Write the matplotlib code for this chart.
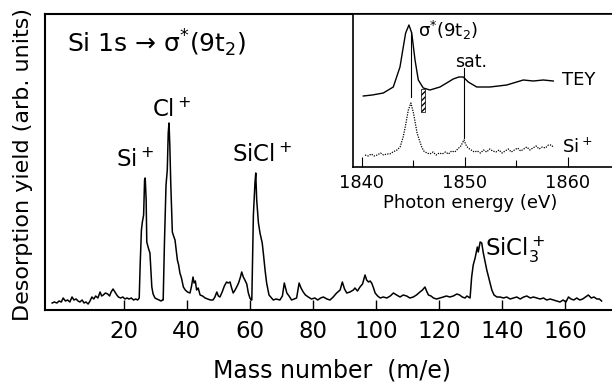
import matplotlib
matplotlib.use("Agg")
import matplotlib.pyplot as plt
from matplotlib.patches import Rectangle

plt.rcParams['font.family'] = 'DejaVu Sans'
plt.rcParams['mathtext.default'] = 'regular'

# main spectrum: mass number vs desorption yield (arb. units)
mass = [-2.7, -2.0, -1.2, -0.5, 0.2, 0.8, 1.5, 2.2, 2.9, 3.6, 4.2, 4.9, 5.5, 6.1, 6.8,
        7.4, 8.0, 8.7, 9.3, 9.9, 10.5, 11.1, 11.8, 12.5, 13.0, 13.5, 14.2, 14.9, 15.5,
        16.0, 16.6, 17.2, 17.8, 18.3, 19.0, 19.7, 20.4, 21.0, 21.7, 22.4, 23.1, 23.8, 24.4,
        24.9, 25.2, 25.6, 25.9, 26.3, 26.6, 26.8, 27.1, 27.3, 27.8, 28.3, 28.6, 28.9, 29.3,
        29.9, 30.5, 31.2, 31.8, 32.3,
        32.5, 32.9, 33.4, 33.8, 34.1, 34.35, 34.6, 34.9, 35.4, 35.8, 36.25, 37.0, 37.4,
        37.8, 38.3, 38.9, 39.5, 40.2, 41.0,
        41.5, 41.96, 42.3, 42.7, 43.1, 43.6, 44.2, 45.0, 45.8, 46.6, 47.5, 48.3, 48.9, 49.5,
        50.0, 50.5, 51.2, 51.9, 52.6, 53.1, 53.7, 54.2, 54.7, 55.3, 55.8, 56.4, 57.0, 57.4,
        57.9, 58.4, 59.0, 59.5, 60.0, 60.4,
        60.6, 60.9, 61.1, 61.6, 61.85, 62.15, 62.7, 63.2, 63.9, 64.25, 64.8, 65.3, 66.05,
        67.4, 68.3, 69.5, 70.3, 70.9, 71.7, 72.4, 73.2, 74.0, 74.8, 75.6, 76.2, 76.9, 77.6,
        78.5, 79.5, 80.6, 81.5, 82.4, 83.3, 84.4, 85.4, 86.4, 87.5, 88.6, 89.3, 90.0, 90.7,
        91.7, 92.8, 93.3, 94.1, 94.9, 95.7, 96.5, 97.0, 97.6, 98.1, 98.6, 99.2, 99.7, 100.5,
        101.3, 102.3, 103.4, 104.5, 105.5, 106.5, 107.6, 108.6, 109.7, 110.7, 111.8, 112.8,
        113.9, 114.7, 115.5, 116.0, 116.6, 117.4, 118.2, 119.2, 120.3, 121.3, 122.3, 123.4,
        124.5, 125.6, 126.5, 127.3, 128.2, 128.8, 129.3, 129.8, 130.3, 130.8, 131.4, 132.1,
        132.4, 133.0, 133.5, 134.0, 134.6, 135.1, 135.9, 136.7, 137.4, 138.3, 139.3, 140.4,
        141.4, 142.5, 143.5, 144.6, 145.7, 146.8, 147.8, 148.9, 149.9, 151.0, 152.0, 153.1,
        154.1, 155.2, 156.2, 157.3, 158.3, 159.3, 160.2, 161.0, 161.8, 162.7, 163.6, 164.6,
        165.5, 166.4, 167.3, 168.2, 169.1, 170.0, 170.8, 171.5]
yield_ = [7, 8, 7, 9, 8, 12, 9, 10, 8, 13, 10, 11, 9, 8, 10,
          7, 8, 6, 9, 13, 11, 14, 12, 18, 14, 15, 17, 16, 14,
          18, 21, 18, 15, 13, 12, 13, 11, 12, 11, 12, 10, 11, 10,
          12, 45, 80, 88, 95, 130, 132, 110, 68, 62, 57, 40, 23, 16,
          12, 11, 10, 9, 10,
          10, 67, 125, 140, 177, 187, 165, 127, 78, 74, 70, 50, 45,
          37, 32, 23, 20, 18, 17,
          24, 33, 27, 29, 20, 22, 15, 14, 12, 11, 10, 10, 13, 18,
          14, 13, 18, 24, 28, 27, 28, 22, 17, 20, 23, 27, 33, 38,
          33, 30, 26, 17, 12, 10,
          10, 60, 95, 127, 137, 110, 87, 77, 67, 57, 40, 27, 15,
          10, 11, 10, 14, 27, 17, 14, 10, 11, 12, 27, 22, 18, 15,
          13, 11, 12, 10, 12, 13, 11, 10, 13, 17, 20, 28, 21, 17,
          18, 20, 22, 19, 23, 26, 35, 30, 28, 29, 27, 22, 17, 14,
          12, 13, 12, 14, 17, 15, 13, 15, 14, 12, 13, 15,
          18, 20, 23, 19, 15, 14, 12, 11, 12, 13, 14, 13,
          14, 16, 15, 13, 12, 14, 13, 12, 33, 45, 52, 63,
          58, 68, 67, 57, 48, 40, 30, 20, 15, 13, 13, 12,
          13, 11, 12, 13, 11, 13, 14, 12, 13, 12, 11, 12,
          10, 11, 10, 9, 8, 10, 8, 13, 11, 10, 12, 10,
          11, 13, 15, 12, 13, 11, 11, 9]

mass_ticks = [20, 40, 60, 80, 100, 120, 140, 160]

# inset: photon energy scans
tey_energy = [1840.13, 1841.0, 1842.07, 1843.04, 1843.69, 1844.01, 1844.24, 1844.56, 1844.83,
              1845.15, 1845.47, 1845.95, 1846.6, 1847.57, 1848.22, 1848.86, 1849.4, 1849.83,
              1850.32, 1851.14, 1852.43, 1854.05, 1855.66, 1856.63, 1857.6, 1858.57]
tey_signal = [71, 72, 74, 80, 100, 120, 134, 142, 134,
              107, 87, 79, 77, 80, 84, 88, 90, 90,
              85, 80, 80, 82, 87, 86, 87, 86]

si_energy = [1840.3, 1840.6, 1840.9, 1841.2, 1841.5, 1841.8, 1842.1, 1842.4, 1842.7, 1843.0,
             1843.4, 1843.7, 1844.0, 1844.2, 1844.5, 1844.75, 1845.0, 1845.35, 1845.6, 1845.8,
             1846.0, 1846.3, 1846.6, 1846.9, 1847.2, 1847.5, 1847.8, 1848.1, 1848.4, 1848.7,
             1849.0, 1849.3, 1849.6, 1849.9, 1850.1, 1850.3, 1850.6, 1850.9, 1851.2, 1851.5,
             1851.8, 1852.1, 1852.4, 1852.7, 1853.0, 1853.3, 1853.6, 1853.9, 1854.2, 1854.5,
             1854.8, 1855.1, 1855.4, 1855.7, 1856.0, 1856.3, 1856.6, 1856.9, 1857.2, 1857.5,
             1857.8, 1858.1, 1858.4, 1858.55]
si_signal = [12, 11, 13, 11, 12, 14, 12, 13, 13, 15,
             17, 20, 30, 40, 57, 64, 54, 34, 26, 20,
             16, 14, 13, 15, 12, 14, 13, 15, 13, 16,
             15, 18, 21, 27, 22, 19, 17, 15, 16, 14,
             17, 15, 18, 16, 15, 17, 14, 16, 18, 15,
             17, 19, 16, 18, 20, 17, 19, 21, 18, 20,
             19, 22, 22, 20]

inset_ticks = [1840, 1850, 1860]
inset_minor = [1845, 1855]

fig = plt.figure(figsize=(6.12, 3.83), dpi=100)

# main panel
ax = fig.add_axes([45 / 612, 73 / 383, 1 - 45 / 612, 296 / 383])
ax.plot(mass, yield_, color='black', lw=1.1)
ax.set_xlim(-4.97, 174.8)
ax.set_ylim(0, 296)
ax.set_xticks(mass_ticks)
ax.set_yticks([])
ax.tick_params(axis='x', direction='in', length=7, width=1, labelsize=16.5, pad=7)
ax.spines['right'].set_visible(False)
for s in ['left', 'top', 'bottom']:
    ax.spines[s].set_linewidth(1.5)
ax.set_xlabel("Mass number  (m/e)", fontsize=17)
ax.xaxis.set_label_coords(0.506, -0.165)
ax.set_ylabel("Desorption yield (arb. units)", fontsize=16)
ax.yaxis.set_label_coords(-0.021, 0.49)

ax.text(0.039, 0.902, "Si 1s → $\\sigma^{*}$(9t$_2$)", transform=ax.transAxes,
        fontsize=18, ha='left', va='center')
ax.text(23.6, 150, "Si$^+$", fontsize=16.5, ha='center', va='center')
ax.text(35.3, 200, "Cl$^+$", fontsize=16.5, ha='center', va='center')
ax.text(63.8, 155, "SiCl$^+$", fontsize=16.5, ha='center', va='center')
ax.text(144.0, 60, "SiCl$_3^+$", fontsize=16.5, ha='center', va='center')

# inset panel
axi = fig.add_axes([353 / 612, 216 / 383, 259 / 612, 153 / 383])
axi.plot(tey_energy, tey_signal, color='black', lw=1.0)
axi.plot(si_energy, si_signal, color='black', lw=0.9, ls=(0, (1, 1)))
axi.plot([1844.73, 1844.73], [70, 135], color='black', lw=0.8)
axi.plot([1849.9, 1849.9], [29, 99], color='black', lw=0.8)
axi.add_patch(Rectangle((1845.7, 55), 0.42, 23, facecolor='white', edgecolor='black',
                        hatch='//////', lw=0.5))
axi.set_xlim(1839.13, 1864.27)
axi.set_ylim(0, 153)
axi.set_xticks(inset_ticks)
axi.set_xticks(inset_minor, minor=True)
axi.set_yticks([])
axi.tick_params(axis='x', which='major', direction='in', length=7, width=0.8,
                labelsize=12.8, pad=5)
axi.tick_params(axis='x', which='minor', direction='in', length=5, width=0.8)
axi.spines['right'].set_visible(False)
for s in ['left', 'top', 'bottom']:
    axi.spines[s].set_linewidth(1.2)
axi.set_xlabel("Photon energy (eV)", fontsize=13)
axi.xaxis.set_label_coords(0.452, -0.175)

axi.text(1845.44, 137, "$\\sigma^{*}$(9t$_2$)", fontsize=13, ha='left', va='center')
axi.text(1850.58, 105, "sat.", fontsize=12.5, ha='center', va='center')
axi.text(1859.42, 87, "TEY", fontsize=13, ha='left', va='center')
axi.text(1859.42, 20, "Si$^+$", fontsize=13, ha='left', va='center')

fig.savefig('out.png', dpi=100)
